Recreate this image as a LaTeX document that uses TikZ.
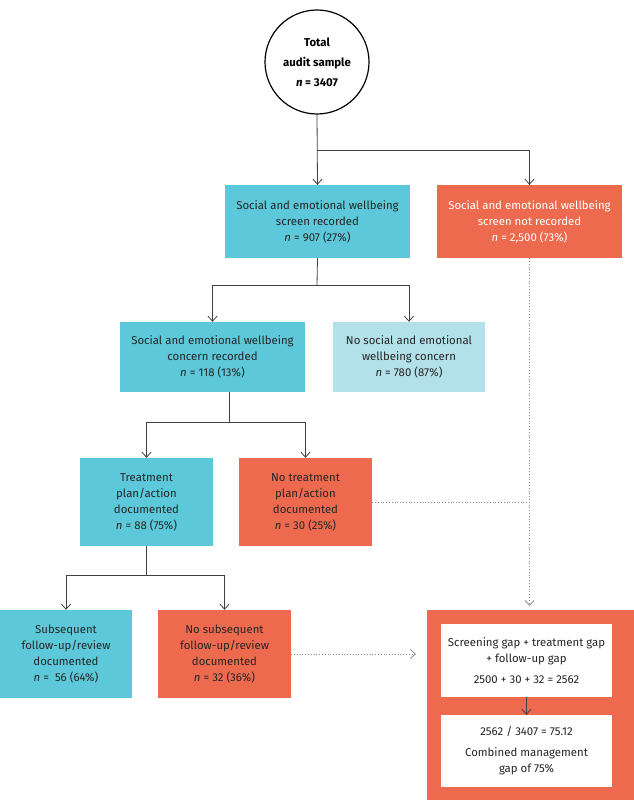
\documentclass[tikz,border=0pt]{standalone}
\usepackage{fontspec}
\setmainfont{Fira Sans}[Scale=0.95]
\usetikzlibrary{arrows.meta}
\definecolor{cy}{HTML}{5CC8D9}
\definecolor{lcy}{HTML}{B3E1E9}
\definecolor{orn}{HTML}{EE6A4F}
\begin{document}
\begin{tikzpicture}[x=1pt,y=-1pt,
  box/.style={draw=none,fill=#1,align=center,font=\fontsize{12}{16}\selectfont,text=black!85,inner sep=0pt},
  ln/.style={draw=black!75,line width=0.8pt},
  ar/.style={ln,-{Straight Barb[length=5pt,width=9pt]}},
  dt/.style={draw=black!45,line width=0.8pt,dotted},
  dar/.style={dt,-{Straight Barb[length=5pt,width=9pt]}}]
\useasboundingbox (0,0) rectangle (634,800);
\node[circle,draw=black,line width=1.2pt,fill=white,minimum size=104pt,align=center,font=\bfseries\fontsize{12}{20}\selectfont] (c) at (317,62) {Total\\audit sample\\\textit{n} = 3407};
\node[box=cy,minimum width=185pt,minimum height=73pt] (s) at (317.5,221.5) {Social and emotional wellbeing\\screen recorded\\\textit{n} = 907 (27\%)};
\node[box=orn,text=white,minimum width=185pt,minimum height=73pt] (sn) at (529.5,221.5) {Social and emotional wellbeing\\screen not recorded\\\textit{n} = 2,500 (73\%)};
\node[box=cy,minimum width=185pt,minimum height=70pt] (cr) at (212.5,357) {Social and emotional wellbeing\\concern recorded\\\textit{n} = 118 (13\%)};
\node[box=lcy,minimum width=152pt,minimum height=70pt] (nc) at (409,357) {No social and emotional\\wellbeing concern\\\textit{n} = 780 (87\%)};
\node[box=cy,minimum width=133pt,minimum height=88pt] (t) at (146.5,502) {Treatment\\plan/action\\documented\\\textit{n} = 88 (75\%)};
\node[box=orn,minimum width=133pt,minimum height=88pt] (nt) at (305.5,502) {No treatment\\plan/action\\documented\\\textit{n} = 30 (25\%)};
\node[box=cy,minimum width=132pt,minimum height=88pt] (f) at (66,654) {Subsequent\\follow-up/review\\documented\\\textit{n} = \ 56 (64\%)};
\node[box=orn,minimum width=133pt,minimum height=88pt] (nf) at (224.5,654) {No subsequent\\follow-up/review\\documented\\\textit{n} = 32 (36\%)};
\node[box=orn,minimum width=207pt,minimum height=190pt] (g) at (530.5,705) {};
\node[box=white,minimum width=171pt,minimum height=73pt] (g1) at (526.5,660.5) {Screening gap + treatment gap\\+ follow-up gap\\[5pt]2500 + 30 + 32 = 2562};
\node[box=white,minimum width=171pt,minimum height=72pt] (g2) at (526.5,751) {2562 / 3407 = 75.12\\[5pt]Combined management\\gap of 75\%};
% connectors
\coordinate (j1) at (317,150);
\draw[ar] (c.south) -- (s.north);
\draw[ar] (j1) -| (sn.north);
\coordinate (j2) at (317,285);
\draw[ln] (s.south) -- (j2);
\draw[ar] (j2) -| (cr.north);
\draw[ar] (j2) -| (nc.north);
\coordinate (j3) at (229,422);
\draw[ln] (cr.south -| j3) -- (j3);
\draw[ar] (j3) -| (t.north);
\draw[ar] (j3) -| (nt.north);
\coordinate (j4) at (146.5,575);
\draw[ln] (t.south) -- (j4);
\draw[ar] (j4) -| (f.north);
\draw[ar] (j4) -| (nf.north);
\coordinate (d1) at (529.5,502);
\draw[dt] (nt.east) -- (d1);
\draw[dar] (sn.south) -- (529.5,606);
\draw[dar] (nf.east) -- (416,654);
\draw[ar] (g1.south) -- (g2.north);
\end{tikzpicture}
\end{document}
